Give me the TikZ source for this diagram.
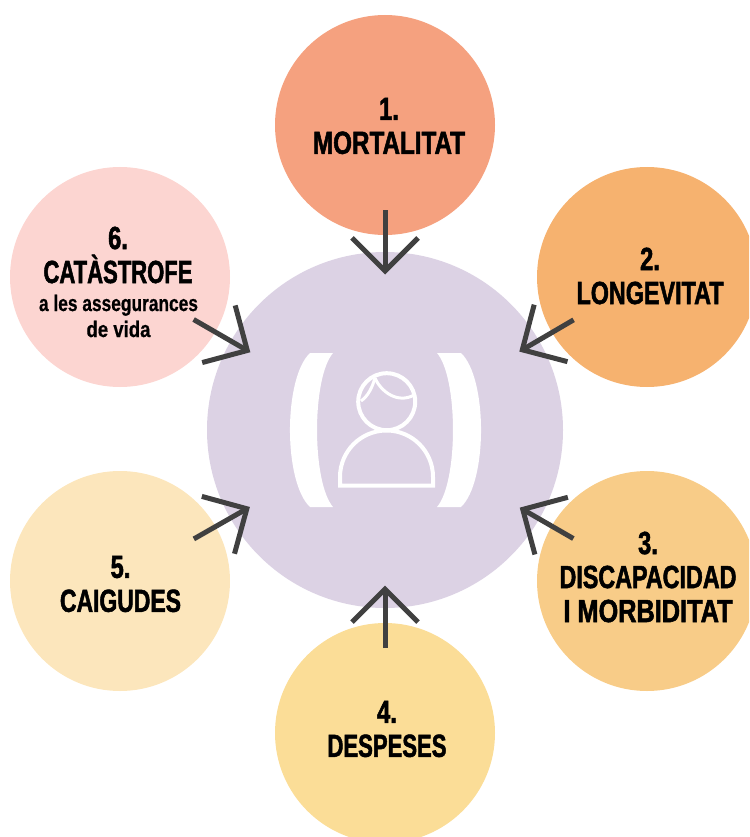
\documentclass[tikz,border=0pt]{standalone}
\usepackage{fontspec}
\usepackage{graphicx}
\setmainfont{Liberation Sans}
\newfontfamily\headfont[FakeStretch=0.74,FakeBold=1.6]{Liberation Sans Bold}
\newfontfamily\subfont[FakeStretch=0.76,FakeBold=0.5]{Liberation Sans Bold}
\newcommand{\fitw}[2]{\resizebox{#1}{\height}{#2}}
\usetikzlibrary{arrows.meta}
\definecolor{cmort}{HTML}{F5A17F}
\definecolor{clong}{HTML}{F6B26F}
\definecolor{cdisc}{HTML}{F8CC88}
\definecolor{cdesp}{HTML}{FBDD97}
\definecolor{ccaig}{HTML}{FCE6BC}
\definecolor{ccata}{HTML}{FCD5D1}
\definecolor{ccent}{HTML}{DCD2E4}
\definecolor{carrow}{HTML}{404040}
\tikzset{
  riskcircle/.style={circle,minimum size=220pt,inner sep=0pt,outer sep=0pt},
  centrecircle/.style={circle,minimum size=356pt,inner sep=0pt,outer sep=0pt,fill=ccent},
  label/.style={align=center,text=black,inner sep=0pt,font=\headfont\fontsize{32}{34}\selectfont},
  sublabel/.style={align=center,text=black,inner sep=0pt,font=\subfont\fontsize{22.5}{26}\selectfont},
  riskarrow/.style={draw=carrow,line width=5pt,shorten <=85pt,shorten >=155.5pt,
    -{Straight Barb[length=33pt,width=66pt,line width=5pt]}},
  iconline/.style={draw=white,line width=4pt},
  paren/.style={fill=white,draw=none}
}
\begin{document}
\begin{tikzpicture}[x=1pt,y=-1pt]
\useasboundingbox (0,0) rectangle (749,837);
\clip (0,0) rectangle (749,837);
\node[centrecircle] (centre) at (385,430) {};
\node[riskcircle,fill=cmort] (mort) at (385,125) {};
\node[riskcircle,fill=clong] (long) at (647,277) {};
\node[riskcircle,fill=cdisc] (disc) at (647,581) {};
\node[riskcircle,fill=cdesp] (desp) at (385,733) {};
\node[riskcircle,fill=ccaig] (caig) at (120,581) {};
\node[riskcircle,fill=ccata] (cata) at (120,277) {};
% texts
\node[label] (tmort) at (389,126) {1.\\\fitw{152pt}{MORTALITAT}};
\node[label] (tlong) at (650,276) {2.\\\fitw{147pt}{LONGEVITAT}};
\node[label] (tdisc) at (648,577) {3.\\\fitw{177pt}{DISCAPACIDAD}\\\fitw{169pt}{I MORBIDITAT}};
\node[label] (tdesp) at (387,729) {4.\\\fitw{119pt}{DESPESES}};
\node[label] (tcaig) at (120.5,584) {5.\\\fitw{121pt}{CAIGUDES}};
\node[label] (tcata) at (118,255) {6.\\\fitw{149pt}{CATÀSTROFE}};
\node[sublabel] (scata) at (118.5,316) {\fitw{159pt}{a les assegurances}\\\fitw{64pt}{de vida}};
% arrows
\foreach \n in {mort,long,disc,desp,caig,cata}
  \draw[riskarrow] (\n.center) -- (centre.center);
% icon
\fill[paren] (310,353) -- (333,353) .. controls (311.7,378) and (311.7,482) .. (333,507) -- (310,507) .. controls (283.3,482) and (283.3,378) .. (310,353) -- cycle;
\fill[paren] (461,353) -- (437,353) .. controls (458.3,378) and (458.3,482) .. (437,507) -- (461,507) .. controls (487.7,482) and (487.7,378) .. (461,353) -- cycle;
\draw[iconline] (386.7,401.7) circle (28.5pt);
\draw[iconline] (340,485.7) -- (340,477) .. controls (340,451.3) and (360.8,430.5) .. (386.5,430.5) .. controls (412.2,430.5) and (433,451.3) .. (433,477) -- (433,485.7) -- cycle;
\draw[iconline,line width=3pt] (375,378) .. controls (381,392) and (398,404) .. (414,395);
\draw[iconline,line width=3pt] (375,378) .. controls (372,388) and (368,396) .. (361,401);
\end{tikzpicture}
\end{document}
